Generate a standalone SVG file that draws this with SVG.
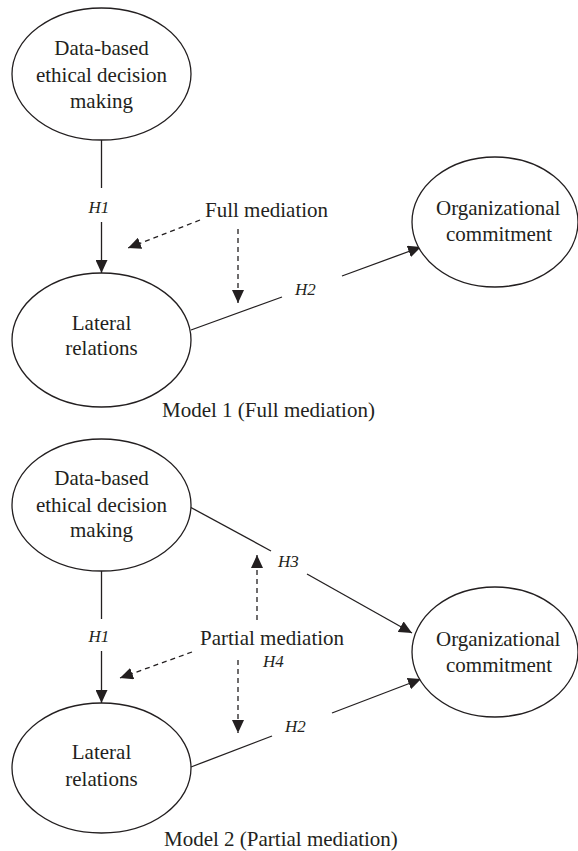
<svg xmlns="http://www.w3.org/2000/svg" width="578" height="851" viewBox="0 0 578 851">
<style>
.node ellipse{fill:#fff;stroke:#231f20;stroke-width:1.3}
.ln{stroke:#231f20;stroke-width:1.3;fill:none}
.ds{stroke:#231f20;stroke-width:1.3;fill:none;stroke-dasharray:5 4}
.ar{marker-end:url(#ah)}
text{font-family:"Liberation Serif","Times New Roman",serif;fill:#231f20;font-size:21px}
text.h{font-size:17px;font-style:italic}
</style>
<defs>
<marker id="ah" markerUnits="userSpaceOnUse" markerWidth="14" markerHeight="12" viewBox="0 0 14 12" refX="13" refY="6" orient="auto">
<path d="M0,0 L13,6 L0,12 Z" fill="#231f20"/>
</marker>
</defs>
<rect width="578" height="851" fill="#fff"/>
<g id="connectors">
<line class="ln" x1="101.5" y1="140" x2="101.5" y2="188"/>
<line class="ln ar" x1="101.5" y1="222" x2="101.5" y2="273"/>
<line class="ds ar" x1="200" y1="220" x2="128" y2="248"/>
<line class="ds ar" x1="238" y1="229" x2="238" y2="303"/>
<line class="ln" x1="191" y1="330" x2="282" y2="297"/>
<line class="ln ar" x1="342" y1="276" x2="421" y2="247"/>
<line class="ln" x1="101.5" y1="571" x2="101.5" y2="619"/>
<line class="ln ar" x1="101.5" y1="651" x2="101.5" y2="703"/>
<line class="ln" x1="190" y1="507" x2="271" y2="551"/>
<line class="ln ar" x1="307" y1="574" x2="412" y2="633"/>
<line class="ds ar" x1="257" y1="620" x2="257" y2="555"/>
<line class="ds ar" x1="238" y1="660" x2="238" y2="733"/>
<line class="ds ar" x1="192" y1="652" x2="120" y2="678"/>
<line class="ln" x1="191" y1="767" x2="272" y2="736"/>
<line class="ln ar" x1="332" y1="713" x2="421" y2="679"/>
</g>
<text id="h1a" class="h" x="88.5" y="213">H1</text>
<text id="h2a" class="h" x="295" y="295">H2</text>
<text id="h1b" class="h" x="88.5" y="642">H1</text>
<text id="h3b" class="h" x="278" y="567">H3</text>
<text id="h4b" class="h" x="263" y="667">H4</text>
<text id="h2b" class="h" x="285" y="732">H2</text>
<text id="fullmed" x="205" y="217">Full mediation</text>
<text id="partmed" x="200" y="645">Partial mediation</text>
<g id="m1-data" class="node">
<ellipse cx="101.5" cy="74" rx="89.5" ry="66"/>
<text id="t1" x="54.3" y="55">Data-based</text>
<text id="t2" x="35.9" y="82">ethical decision</text>
<text id="t3" x="70" y="108">making</text>
</g>
<g id="m1-lateral" class="node">
<ellipse cx="101.5" cy="340" rx="89.5" ry="67"/>
<text id="t4" x="71.8" y="330">Lateral</text>
<text id="t5" x="65.3" y="355">relations</text>
</g>
<g id="m1-org" class="node">
<ellipse cx="495" cy="222" rx="83" ry="65"/>
<text id="t6" x="436" y="215">Organizational</text>
<text id="t7" x="446" y="241">commitment</text>
</g>
<text id="cap1" x="162" y="417">Model 1 (Full mediation)</text>
<g id="m2-data" class="node">
<ellipse cx="101.5" cy="505" rx="89.5" ry="66"/>
<text id="t8" x="54.3" y="485">Data-based</text>
<text id="t9" x="35.9" y="512">ethical decision</text>
<text id="t10" x="70" y="537">making</text>
</g>
<g id="m2-lateral" class="node">
<ellipse cx="101.5" cy="768" rx="89.5" ry="65"/>
<text id="t11" x="71.8" y="759">Lateral</text>
<text id="t12" x="65.3" y="786">relations</text>
</g>
<g id="m2-org" class="node">
<ellipse cx="495" cy="652" rx="83" ry="65"/>
<text id="t13" x="436" y="646">Organizational</text>
<text id="t14" x="446" y="672">commitment</text>
</g>
<text id="cap2" x="164" y="846">Model 2 (Partial mediation)</text>
</svg>
